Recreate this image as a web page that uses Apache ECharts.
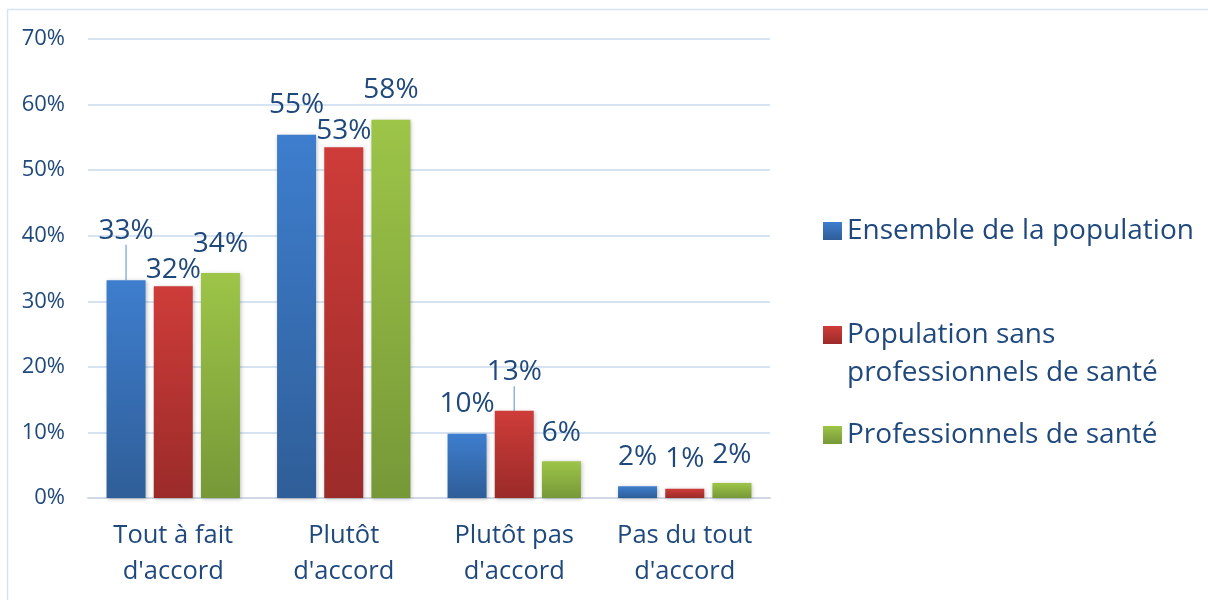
<!DOCTYPE html>
<html><head><meta charset="utf-8">
<script src="https://cdn.jsdelivr.net/npm/echarts@6/dist/echarts.min.js"></script>
<style>html,body{margin:0;padding:0;background:#fff}#c{width:1208px;height:600px}</style>
</head><body><div id="c"></div>
<script>
const categories = ["Tout à fait\nd'accord", "Plutôt\nd'accord", "Plutôt pas\nd'accord", "Pas du tout\nd'accord"];
const seriesNames = ["Ensemble de la population", "Population sans\nprofessionnels de santé", "Professionnels de santé"];
const ensemble = [33.2, 55.4, 9.8, 1.8];
const sansPro = [32.3, 53.5, 13.3, 1.4];
const pro = [34.3, 57.7, 5.6, 2.3];
const labelsEnsemble = ["33%", "55%", "10%", "2%"];
const labelsSansPro = ["32%", "53%", "13%", "1%"];
const labelsPro = ["34%", "58%", "6%", "2%"];
const yTicks = [0, 10, 20, 30, 40, 50, 60, 70];

const textColor = '#1f497d';
const font = '"Open Sans", sans-serif';
const grads = [
  ['#3e7ece', '#2f5e98'],
  ['#ce3c39', '#9b2b29'],
  ['#9dc548', '#779838']
];
// label distance tweaks (presentation only)
const distances = [[16, 16, 16, 16], [3, 3, 3, 16], [16, 16, 15, 14]];
const guideLine = [[true, false, false, false], [false, false, true, false], [false, false, false, false]];

function mk(i, vals, labels) {
  return {
    name: seriesNames[i],
    type: 'bar',
    barWidth: 39,
    barGap: '21%',
    data: vals.map((v, j) => ({
      value: v,
      label: { distance: distances[i][j] },
      labelLine: { show: guideLine[i][j] }
    })),
    itemStyle: {
      color: { type: 'linear', x: 0, y: 0, x2: 0, y2: 1, colorStops: [{ offset: 0, color: grads[i][0] }, { offset: 1, color: grads[i][1] }] },
      shadowColor: 'rgba(0,0,0,0.25)', shadowBlur: 4, shadowOffsetX: 1, shadowOffsetY: 1
    },
    label: {
      show: true, position: 'top', color: textColor, fontFamily: font, fontSize: 28, lineHeight: 27,
      formatter: p => labels[p.dataIndex]
    },
    labelLine: { lineStyle: { color: '#8db3e2', width: 1.5 } },
    labelLayout: function (p) {
      if (i === 0 && guideLine[i][p.dataIndex]) return { dy: -20 };
      if (guideLine[i][p.dataIndex]) return { dy: -22 };
      return {};
    }
  };
}

const chart = echarts.init(document.getElementById('c'), null, { renderer: 'canvas' });
const legendTops = [212, 278, 416];
chart.setOption({
  animation: false,
  backgroundColor: '#fff',
  graphic: [{ type: 'rect', shape: { x: 7.5, y: 9.5, width: 1220, height: 620 }, style: { fill: 'none', stroke: '#d6e3f3', lineWidth: 1.5 } }],
  grid: { left: 88, right: 438, top: 39, bottom: 102 },
  legend: seriesNames.map((n, i) => ({
    data: [n], orient: 'vertical', left: 823, top: legendTops[i], padding: 0,
    itemWidth: 19, itemHeight: 18, icon: 'rect',
    textStyle: { color: textColor, fontFamily: font, fontSize: 28, lineHeight: 38 },
    formatter: i === 1 ? ('\n' + n) : undefined
  })),
  xAxis: {
    type: 'category', data: categories,
    axisTick: { show: false },
    axisLine: { lineStyle: { color: '#cfd8e4', width: 2 } },
    axisLabel: { interval: 0, color: textColor, fontFamily: font, fontSize: 25.5, lineHeight: 36, margin: 20 }
  },
  yAxis: {
    type: 'value', min: 0, max: 70, interval: 10,
    axisLine: { show: false }, axisTick: { show: false },
    splitLine: { lineStyle: { color: '#d6e3f3', width: 2 } },
    axisLabel: { color: textColor, fontFamily: font, fontSize: 22, margin: 23, formatter: v => yTicks.includes(v) ? v + '%' : '' }
  },
  series: [mk(0, ensemble, labelsEnsemble), mk(1, sansPro, labelsSansPro), mk(2, pro, labelsPro)]
});
</script></body></html>
